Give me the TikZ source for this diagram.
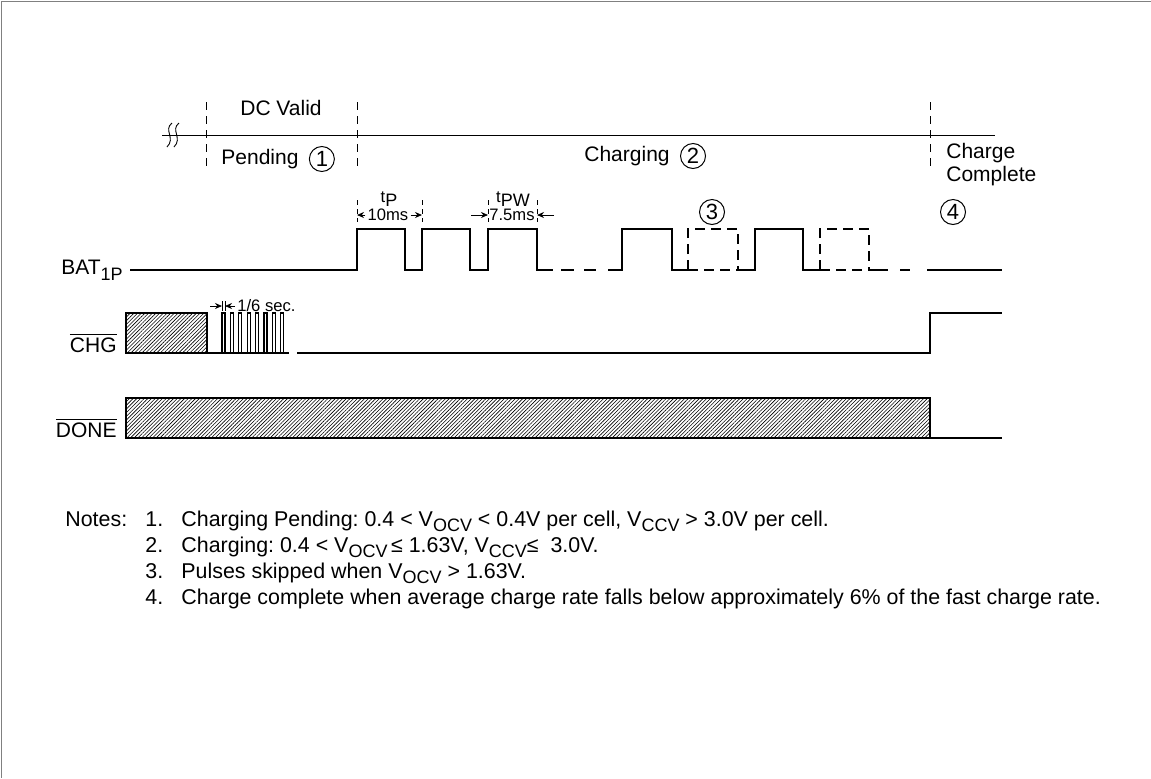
\documentclass[tikz,border=0pt]{standalone}
\usepackage{fontspec}
\setmainfont{Liberation Sans}
\usetikzlibrary{arrows.meta,positioning,patterns.meta}
\frenchspacing

\newcommand{\lowsub}[1]{\raisebox{-0.5ex}{\fontsize{9}{10}\selectfont #1}}

\begin{document}
\begin{tikzpicture}[x=0.5pt,y=-0.5pt,>={Stealth[length=3.5pt,width=3pt]},line join=miter,
  wave/.style={line width=0.6pt},
  skipped/.style={line width=0.6pt,dash pattern=on 5pt off 3pt},
  phase/.style={line width=0.5pt,dash pattern=on 4pt off 3pt},
  tick/.style={line width=0.4pt,dash pattern=on 2.5pt off 2pt},
  hatch/.style={draw,line width=0.6pt,pattern={Lines[angle=45,distance=1.3pt,line width=0.3pt]}},
  lbl/.style={font=\fontsize{10.5}{11.5}\selectfont,inner sep=0pt},
  tiny/.style={font=\fontsize{8.3}{9}\selectfont,inner sep=1pt},
  num/.style={draw,circle,line width=0.5pt,minimum size=12.5pt,inner sep=0pt,font=\fontsize{11}{12}\selectfont},
  note/.style={font=\fontsize{10.7}{12}\selectfont,inner sep=0pt,anchor=base west}]
  \useasboundingbox (0,0) rectangle (1151,778);
  \draw[gray,line width=0.5pt] (1151,1.5) -- (1.5,1.5) -- (1.5,778);

  % time line with phases
  \draw[line width=0.5pt] (162,135) -- (995,135);
  \foreach \s in {0,7}
    \draw[line width=0.45pt] ({172+\s},123) .. controls ({163+\s},130) and ({176+\s},138) .. ({167+\s},147);
  \foreach \x in {206,357,930}
    \draw[phase] (\x,102) -- (\x,170);

  \node[lbl] (dcvalid) at (281,108) {DC Valid};
  \node[lbl,anchor=west] (pending) at (221,159) {Pending};
  \node[num,right=5pt of pending] (c1) {1};
  \node[lbl,anchor=west] (charging) at (584,156) {Charging};
  \node[num,right=5pt of charging] (c2) {2};
  \node[lbl,anchor=north west,align=left] (complete) at (946,143) {Charge\\Complete};
  \node[num] (c3) at (712,212) {3};
  \node[num] (c4) at (953,212) {4};

  % signal names
  \node[lbl,anchor=east] (bat) at (123,270) {BAT\lowsub{1P}};
  \node[lbl,anchor=base east] (chg) at (117,352) {$\overline{\mbox{CHG}}$};
  \node[lbl,anchor=base east] (done) at (117,437) {$\overline{\mbox{DONE}}$};

  % BAT1P
  \draw[wave] (130,270) -- (357,270) -- (357,229) -- (405,229) -- (405,270) -- (422,270) -- (422,229)
    -- (470,229) -- (470,270) -- (488,270) -- (488,229) -- (537,229) -- (537,270) -- (553,270);
  \draw[wave] (561,270) -- (574,270) (584,270) -- (596,270);
  \draw[wave] (608,270) -- (622,270) -- (622,229) -- (672,229) -- (672,270) -- (688,270);
  \draw[skipped] (688,270) -- (688,229) -- (738,229) -- (738,270) (688,270) -- (738,270);
  \draw[wave] (738,270) -- (755,270) -- (755,229) -- (803,229) -- (803,270) -- (820,270);
  \draw[skipped] (820,270) -- (820,229) -- (869,229) -- (869,270) (820,270) -- (869,270);
  \draw[wave] (869,270) -- (888,270) (900,270) -- (910,270) (927,270) -- (1002,270);

  % tP and tPW
  \foreach \x in {357,422,488,537}
    \draw[tick] (\x,200) -- (\x,222);
  \node[tiny] (tp) at (389,199) {t\lowsub{P}};
  \node[tiny] (tpten) at (388,215) {10ms};
  \coordinate (tpL) at (357,215);
  \coordinate (tpR) at (422,215);
  \draw[->,line width=0.4pt] (tpten.west) -- (tpL);
  \draw[->,line width=0.4pt] (tpten.east) -- (tpR);
  \node[tiny] (tpw) at (513,199) {t\lowsub{PW}};
  \node[tiny] (tpwval) at (512,215) {7.5ms};
  \coordinate (tpwL) at (488,215);
  \coordinate (tpwR) at (537,215);
  \coordinate (tpwLo) at (471,215);
  \coordinate (tpwRo) at (554,215);
  \draw[->,line width=0.4pt] (tpwLo) -- (tpwL);
  \draw[->,line width=0.4pt] (tpwRo) -- (tpwR);

  % CHG
  \draw[hatch] (126,313) rectangle (207,353);
  \draw[wave] (207,353) -- (289,353);
  \foreach \i in {0,...,7}
    \draw[wave] ({222+8.4*\i},353) -- ++(0,-40) -- ++(3,0) -- ++(0,40);
  \draw[wave] (297,353) -- (930,353) -- (930,313) -- (1002,313);
  \draw[line width=0.4pt] (222,301) -- (222,311) (225,301) -- (225,311);
  \coordinate (secL) at (222,306);
  \coordinate (secR) at (225,306);
  \coordinate (secLo) at (210,306);
  \node[tiny,anchor=west] (sec) at (235,306) {1/6 sec.};
  \draw[->,line width=0.4pt] (secLo) -- (secL);
  \draw[->,line width=0.4pt] (sec.west) -- (secR);

  % DONE
  \draw[hatch] (126,398) rectangle (930,438);
  \draw[wave] (930,438) -- (1002,438);

  % notes
  \node[note] (notes) at (65,526) {Notes:};
  \node[note] (n1) at (145,526) {1.};
  \node[note] (t1) at (181,526) {Charging Pending: 0.4 < V\lowsub{OCV} < 0.4V per cell, V\lowsub{CCV} > 3.0V per cell.};
  \node[note] (n2) at (145,552) {2.};
  \node[note] (t2) at (181,552) {Charging: 0.4 < V\lowsub{OCV}\,≤ 1.63V, V\lowsub{CCV}≤ \ 3.0V.};
  \node[note] (n3) at (145,578) {3.};
  \node[note] (t3) at (181,578) {Pulses skipped when V\lowsub{OCV} > 1.63V.};
  \node[note] (n4) at (145,604) {4.};
  \node[note] (t4) at (181,604) {Charge complete when average charge rate falls below approximately 6\% of the fast charge rate.};
\end{tikzpicture}
\end{document}
